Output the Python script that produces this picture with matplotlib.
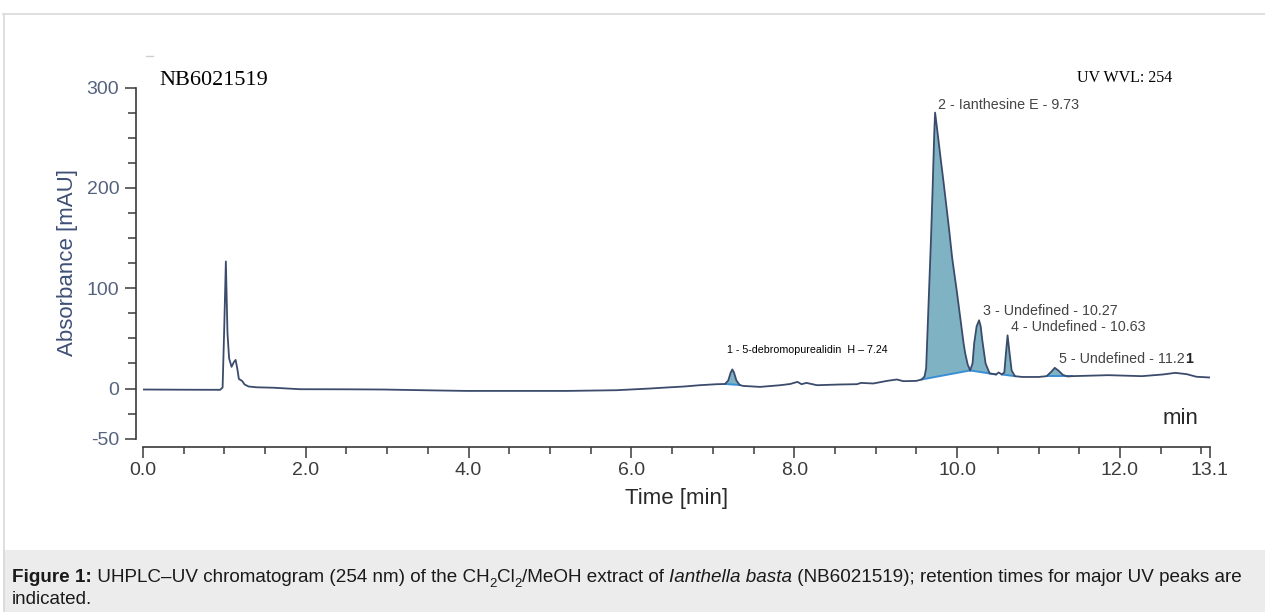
import matplotlib
matplotlib.use('Agg')
import matplotlib.pyplot as plt
import numpy as np
from matplotlib.lines import Line2D
from matplotlib.patches import Rectangle

# ---------------- data ----------------
time_min = [0.00, 0.50, 0.95, 0.98, 1.00, 1.02, 1.04, 1.06, 1.09, 1.12, 1.14, 1.16,
            1.18, 1.22, 1.25, 1.30, 1.40, 1.60, 1.93, 2.50, 2.95, 3.50, 3.98, 4.60,
            5.21, 5.82, 6.23, 6.43, 6.65, 6.84, 7.05, 7.15, 7.19, 7.22, 7.24, 7.26,
            7.29, 7.33, 7.37, 7.58, 7.83, 7.95, 8.04, 8.09, 8.15, 8.28, 8.56, 8.77,
            8.82, 8.97, 9.14, 9.26, 9.34, 9.50, 9.565, 9.60, 9.62, 9.65, 9.68, 9.70,
            9.72, 9.73, 9.75, 9.80, 9.835, 9.90, 9.94, 10.00, 10.04, 10.08, 10.10,
            10.13, 10.16, 10.19, 10.21, 10.24, 10.27, 10.29, 10.31, 10.35, 10.40,
            10.48, 10.51, 10.55, 10.58, 10.60, 10.62, 10.645, 10.67, 10.71, 10.80,
            11.00, 11.10, 11.16, 11.20, 11.25, 11.30, 11.36, 11.41, 11.86, 12.27,
            12.53, 12.68, 12.82, 12.94, 13.10]
absorbance = [-1.0, -1.2, -1.3, 1.0, 60, 126.6, 55, 30, 21.6, 26.5, 28.5, 20,
              9.5, 7.5, 4, 2, 1.2, 0.8, -0.7, -0.8, -1.0, -1.8, -2.4, -2.4,
              -2.4, -1.7, 0, 1, 2, 3.3, 4.3, 4.5, 8, 16, 19, 16,
              8, 3.5, 2.6, 1.6, 3.3, 4.5, 6.6, 4.3, 5.6, 3.3, 4.0, 4.3,
              5.6, 5.0, 7.6, 9.0, 7.3, 7.6, 9, 12, 20, 85, 150, 200,
              255, 275, 262, 228, 205, 160, 130, 95, 70, 45, 35,
              24, 18, 25, 45, 62, 68, 62, 48, 25, 15,
              14, 16, 14, 16, 35, 53, 35, 18, 12.3, 11.5,
              11.5, 12.3, 17, 20.6, 17.5, 13.5, 12.0, 12.3, 13.3, 12.3,
              14, 15.6, 14.3, 11.7, 11]

# integrated peaks: start/end time and baseline value at start/end
peak_start = [7.15, 9.565, 10.16, 10.55, 11.10]
peak_end = [7.33, 10.16, 10.48, 10.71, 11.41]
base_start = [4.5, 9.0, 18.0, 14.0, 12.3]
base_end = [3.5, 18.0, 14.0, 12.3, 12.3]

peak_labels = ["1 - 5-debromopurealidin  H \u2013 7.24",
               "2 - Ianthesine E - 9.73",
               "3 - Undefined - 10.27",
               "4 - Undefined - 10.63",
               "5 - Undefined - 11.2"]
peak_label_t = [7.176, 9.765, 10.314, 10.658, 11.255]
peak_label_y = [38.2, 282.4, 77.3, 61.4, 29.9]

x_tick_values = [0, 2, 4, 6, 8, 10, 12, 13.1]
x_tick_labels = ["0.0", "2.0", "4.0", "6.0", "8.0", "10.0", "12.0", "13.1"]
y_tick_values = [-50, 0, 100, 200, 300]
y_tick_labels = ["-50", "0", "100", "200", "300"]

# ---------------- figure ----------------
W, H = 1265, 612
DPI = 100
plt.rcParams['font.family'] = ['Liberation Sans', 'DejaVu Sans']
fig = plt.figure(figsize=(W / DPI, H / DPI), dpi=DPI)
fig.patch.set_facecolor('white')

def fx(px):
    return px / W

def fy(py):
    return 1 - py / H

# page frame and caption box
fig.add_artist(Rectangle((fx(3), 0), 1 - fx(3), fy(550), transform=fig.transFigure,
                         facecolor='#ececec', edgecolor='none', zorder=0))
fig.add_artist(Line2D([fx(3), 1], [fy(13.5), fy(13.5)], transform=fig.transFigure,
                      color='#d9d9d9', lw=1.2))
fig.add_artist(Line2D([fx(3.5), fx(3.5)], [fy(13.5), 0], transform=fig.transFigure,
                      color='#d9d9d9', lw=1.2))
fig.add_artist(Line2D([fx(146), fx(153)], [fy(56), fy(56)], transform=fig.transFigure,
                      color='#cfcfcf', lw=1.0))

ax = fig.add_axes([fx(142.8), fy(446.7), (1209.5 - 142.8) / W, (446.7 - 82.5) / H])
ax.set_facecolor('none')
ax.set_xlim(0, 13.1)
ax.set_ylim(-58, 305)

t = np.array(time_min)
a = np.array(absorbance)

trace_color = '#3b4b6b'
fill_color = '#7fb3c3'
base_color = '#3a8fd4'

for s, e, bs, be in zip(peak_start, peak_end, base_start, base_end):
    m = (t >= s) & (t <= e)
    px = np.concatenate([t[m], [e, s]])
    py = np.concatenate([a[m], [be, bs]])
    ax.fill(px, py, color=fill_color, lw=0, zorder=2)
    ax.plot([s, e], [bs, be], color=base_color, lw=1.4, zorder=3)

ax.plot(t, a, color=trace_color, lw=1.3, zorder=4, solid_joinstyle='round')

# spines
for sp in ['top', 'right']:
    ax.spines[sp].set_visible(False)
ax.spines['left'].set_position(('outward', 6.8 * 72 / DPI))
ax.spines['left'].set_bounds(-50, 300)
ax.spines['bottom'].set_bounds(0, 13.1)
for sp in ['left', 'bottom']:
    ax.spines[sp].set_color('#3a3a3a')
    ax.spines[sp].set_linewidth(1.2)

ax.set_xticks(x_tick_values)
ax.set_xticklabels(x_tick_labels)
ax.set_xticks([v for v in np.arange(0.5, 13.01, 0.5) if v not in x_tick_values], minor=True)
ax.set_yticks(y_tick_values)
ax.set_yticklabels(y_tick_labels)
ax.set_yticks([v for v in np.arange(-25, 300, 25) if v not in y_tick_values], minor=True)

ax.tick_params(axis='x', which='major', direction='out', length=8, width=1.1,
               color='#3a3a3a', labelsize=14, labelcolor='#3c3c3c', pad=3)
ax.tick_params(axis='x', which='minor', direction='out', length=5, width=1.1, color='#3a3a3a')
ax.tick_params(axis='y', which='major', direction='out', length=8, width=1.1,
               color='#3a3a3a', labelsize=14, labelcolor='#56637f', pad=4)
ax.tick_params(axis='y', which='minor', direction='out', length=6, width=1.1, color='#3a3a3a')

ax.set_xlabel('Time [min]', fontsize=16, color='#2a2a2a')
ax.xaxis.set_label_coords(0.5, (fy(498.7) - fy(446.7)) / ((446.7 - 82.5) / H))
ax.xaxis.label.set_va('center')
ax.set_ylabel('Absorbance [mAU]', fontsize=16, color='#3f5077')
ax.yaxis.set_label_coords((68 - 142.8) / (1209.5 - 142.8),
                          (fy(262.5) - fy(446.7)) / ((446.7 - 82.5) / H))
ax.yaxis.label.set_va('center')

# corner texts
fig.text(fx(159), fy(80.5), 'NB6021519', family='Liberation Serif', fontsize=16,
         ha='left', va='center', color='black')
fig.text(fx(1077), fy(78.3), 'UV WVL: 254', family='Liberation Serif', fontsize=11.5,
         ha='left', va='center', color='black')
fig.text(fx(1180), fy(418), 'min', fontsize=16, ha='center', va='center', color='#2a2a2a')

# peak labels
renderer = fig.canvas.get_renderer()

def adv_width(text, **kw):
    t1 = fig.text(0, 0, text + '|', **kw)
    w1 = t1.get_window_extent(renderer).width
    t1.remove()
    t2 = fig.text(0, 0, '|', **kw)
    w2 = t2.get_window_extent(renderer).width
    t2.remove()
    return w1 - w2

for i, (lab, lt, ly) in enumerate(zip(peak_labels, peak_label_t, peak_label_y)):
    if i == 0:
        ax.text(lt, ly, lab, fontsize=7.7, color='black', ha='left', va='center', zorder=5)
    else:
        ax.text(lt, ly, lab, fontsize=10.3, color='#444444', ha='left', va='center', zorder=5)
    if i == 4:
        w = adv_width(lab, fontsize=10.3)
        ax.annotate('1', xy=(lt, ly), xytext=(w * 72 / DPI, 0), textcoords='offset points',
                    fontsize=10.3, fontweight='bold', color='#222222', ha='left', va='center')

# caption
cap_runs1 = [("Figure 1:", dict(fontweight='bold')),
             (" UHPLC\u2013UV chromatogram (254 nm) of the CH", {}),
             ("2", dict(sub=True)),
             ("Cl", {}),
             ("2", dict(sub=True)),
             ("/MeOH extract of ", {}),
             ("Ianthella basta", dict(fontstyle='italic')),
             (" (NB6021519); retention times for major UV peaks are", {})]
cap_runs2 = [("indicated.", {})]

def run_kw(style, size):
    kw = dict(fontsize=size * (0.7 if style.get('sub') else 1.0), color='#1a1a1a')
    if 'fontweight' in style:
        kw['fontweight'] = style['fontweight']
    if 'fontstyle' in style:
        kw['fontstyle'] = style['fontstyle']
    return kw

def runs_width(runs, size):
    return sum(adv_width(txt, **run_kw(st, size)) for txt, st in runs)

base_size = 12.0
cap_size = base_size * 1233.0 / runs_width(cap_runs1, base_size)

def draw_runs(runs, x0, ybase, size):
    x = x0
    for txt, st in runs:
        kw = run_kw(st, size)
        yoff = size * DPI / 72 * 0.25 if st.get('sub') else 0
        fig.text(fx(x), fy(ybase + yoff), txt, ha='left', va='baseline', **kw)
        x += adv_width(txt, **kw)

draw_runs(cap_runs1, 12, 582, cap_size)
draw_runs(cap_runs2, 12, 604, cap_size)

fig.savefig('out.png', dpi=DPI, facecolor='white')
